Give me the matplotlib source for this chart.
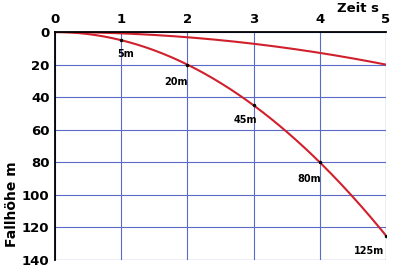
import matplotlib.pyplot as plt
import numpy as np

# time in s, fall height in m
t = [0, 1, 2, 3, 4, 5]
earth = [0, 5, 20, 45, 80, 125]
moon = [0, 0.8, 3.2, 7.2, 12.8, 20]
labels = ['', '5m', '20m', '45m', '80m', '125m']
x_ticks = [0, 1, 2, 3, 4, 5]
y_ticks = [0, 20, 40, 60, 80, 100, 120, 140]

red = '#d0202c'
blue = '#5a6ac8'

fig = plt.figure(figsize=(4, 2.67), dpi=100)
ax = fig.add_axes([0.1375, 0.026, 0.8275, 0.854])

# smooth quadratic curves through the read points
ts = np.linspace(0, 5, 200)
ax.plot(ts, np.polyval(np.polyfit(t, earth, 2), ts), color=red, lw=1.5)
ax.plot(ts, np.polyval(np.polyfit(t, moon, 2), ts), color=red, lw=1.5)
ax.plot(t[1:], earth[1:], 'k.', ms=3)

offsets = [(0, 0), (3, -12), (-8, -15), (-6, -13), (-8, -14), (-12, -13)]
for xi, yi, lab, off in zip(t, earth, labels, offsets):
    if lab:
        ax.annotate(lab, (xi, yi), xytext=off, textcoords='offset points',
                    ha='center', fontsize=7, fontweight='bold')

ax.set_xlim(0, 5)
ax.set_ylim(140, 0)
ax.set_xticks(x_ticks)
ax.set_yticks(y_ticks)
ax.xaxis.tick_top()
ax.tick_params(length=0, labelsize=9.5, pad=4)
for lab in ax.get_xticklabels() + ax.get_yticklabels():
    lab.set_fontweight('bold')
ax.grid(color=blue, lw=0.8)
for s in ['right', 'bottom']:
    ax.spines[s].set_visible(False)
for s in ['left', 'top']:
    ax.spines[s].set_linewidth(1.3)
ax.set_axisbelow(True)
ax.axvline(5, color=blue, lw=0.8, zorder=0)
ax.axhline(140, color=blue, lw=0.8, zorder=0)

fig.text(0.895, 0.968, 'Zeit s', fontsize=9.5, fontweight='bold', ha='center', va='center')
fig.text(0.03, 0.235, 'Fallhöhe m', fontsize=10, fontweight='bold', rotation=90,
         ha='center', va='center')

fig.savefig('out.png', dpi=100)
